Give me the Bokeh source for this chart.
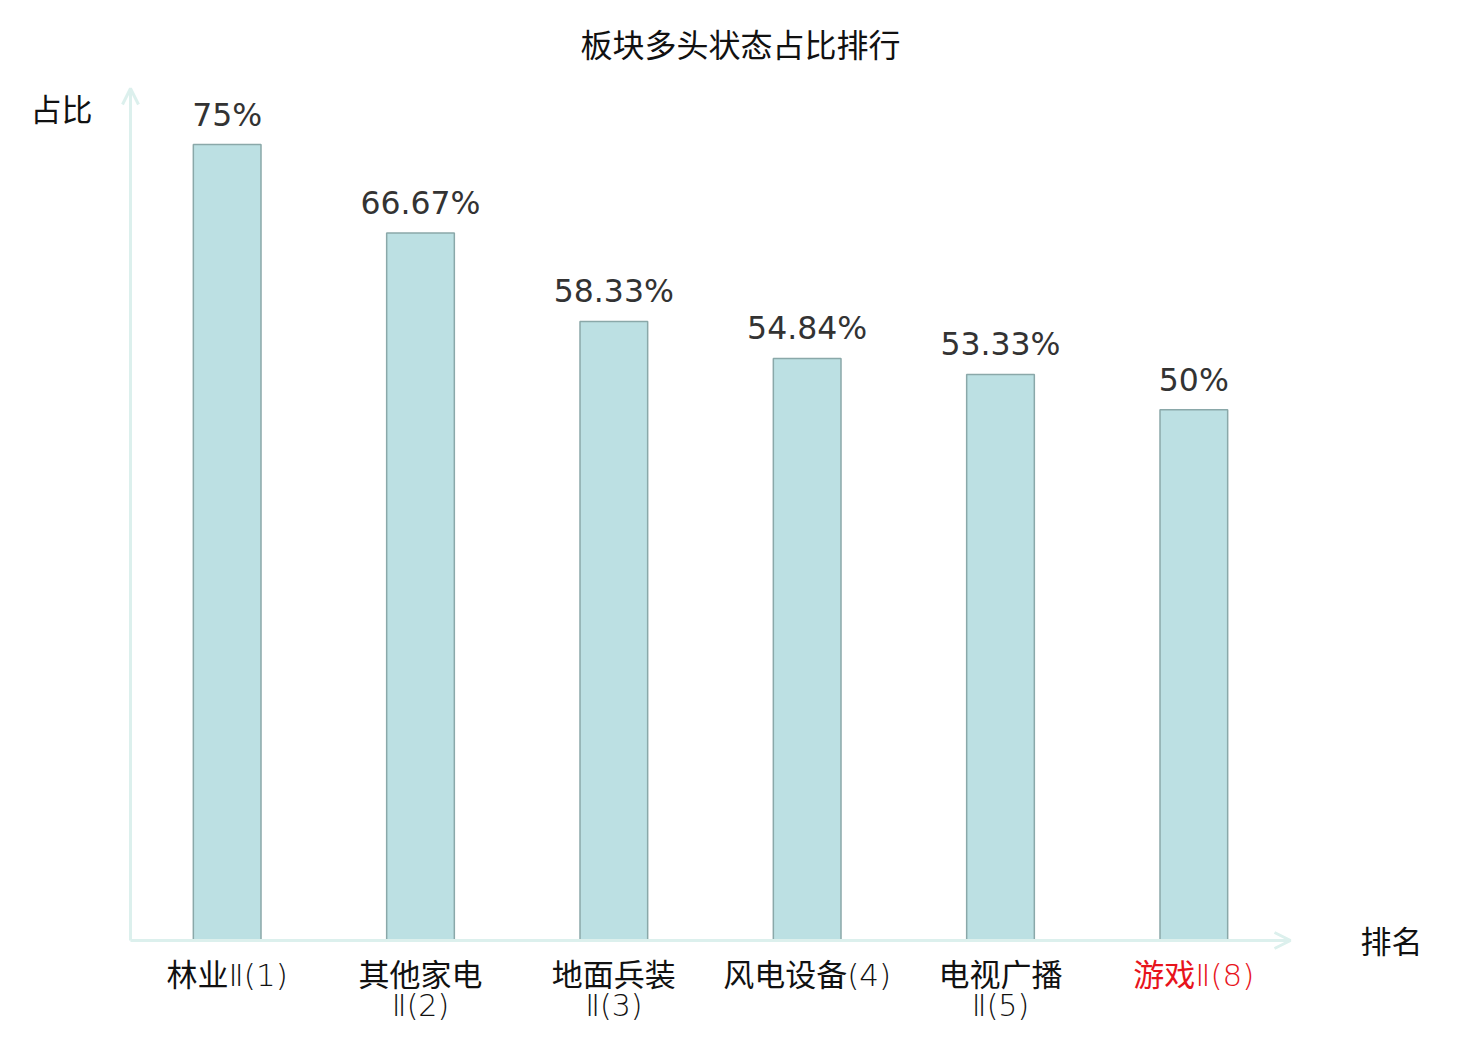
from bokeh.plotting import figure
from bokeh.models import ColumnDataSource, LabelSet, Label, Arrow, OpenHead, Range1d
from bokeh.core.properties import value
from bokeh.embed import file_html
from bokeh.resources import INLINE

# ---- data ----
categories = ["林业Ⅱ", "其他家电Ⅱ", "地面兵装Ⅱ", "风电设备", "电视广播Ⅱ", "游戏Ⅱ"]
label_line1 = ["林业Ⅱ(1)", "其他家电", "地面兵装", "风电设备(4)", "电视广播", "游戏Ⅱ(8)"]
label_line2 = ["", "Ⅱ(2)", "Ⅱ(3)", "", "Ⅱ(5)", ""]
label_colors = ["#111111", "#111111", "#111111", "#111111", "#111111", "#e8141c"]
values = [75, 66.67, 58.33, 54.84, 53.33, 50]
value_texts = ["75%", "66.67%", "58.33%", "54.84%", "53.33%", "50%"]
title_text = "板块多头状态占比排行"
y_name = "占比"
x_name = "排名"

CJK = "Noto Sans CJK SC"
MIX = "'DejaVu Sans ExtraLight', 'DejaVu Sans Light', 'Noto Sans CJK SC'"
axis_color = "#dcf0ed"

W, H = 1464, 1024
# frame covers whole canvas; axis origin at pixel (130, 940), x unit 193.33px, y unit 10.613px
xu, yu = 1160 / 6, 796 / 75
n = len(categories)
xs = [i + 0.5 for i in range(n)]

src = ColumnDataSource(dict(x=xs, cat=categories, val=values, vtxt=value_texts,
                            l1=label_line1, l2=label_line2, lc=label_colors))

p = figure(width=W, height=H, output_backend="svg", toolbar_location=None,
           x_range=Range1d(-130 / xu, (W - 130) / xu),
           y_range=Range1d(-(H - 940) / yu, 940 / yu),
           min_border=0)
p.axis.visible = False
p.grid.visible = False
p.outline_line_color = None
p.background_fill_color = "white"
p.border_fill_color = "white"

p.vbar(x="x", top="val", width=0.35, source=src,
       fill_color="#bce0e3", line_color="#8aa8a9", line_width=1.5)

y_top = 852 / yu
# axes with arrows
p.add_layout(Arrow(end=OpenHead(size=16, line_color=axis_color, line_width=3),
                   x_start=0, y_start=0, x_end=0, y_end=y_top,
                   line_color=axis_color, line_width=3))
p.add_layout(Arrow(end=OpenHead(size=16, line_color=axis_color, line_width=3),
                   x_start=0, y_start=0, x_end=n, y_end=0,
                   line_color=axis_color, line_width=3))

# title
p.add_layout(Label(x=(740 - 130) / xu, y=(940 - 42) / yu, text=title_text,
                   text_align="center", text_baseline="middle",
                   text_font=CJK, text_font_size="32px", text_color="#111111"))

# value labels
p.add_layout(LabelSet(x="x", y="val", text="vtxt", source=src,
                      text_align="center", text_baseline="middle", y_offset=30,
                      text_font=value("DejaVu Sans"), text_font_size=value("31.5px"),
                      text_color=value("#333333")))
# category labels
p.add_layout(LabelSet(x="x", y=0, text="l1", source=src,
                      text_align="center", text_baseline="middle", y_offset=-34,
                      text_font=value(MIX), text_font_size=value("31px"), text_color="lc"))
p.add_layout(LabelSet(x="x", y=0, text="l2", source=src,
                      text_align="center", text_baseline="middle", y_offset=-65,
                      text_font=value(MIX), text_font_size=value("30px"), text_color="lc"))

# axis names
p.add_layout(Label(x=0, y=y_top, text=y_name, x_offset=-69, y_offset=-19,
                   text_align="center", text_baseline="middle",
                   text_font=CJK, text_font_size="31px", text_color="#111111"))
p.add_layout(Label(x=n, y=0, text=x_name, x_offset=101, y_offset=1,
                   text_align="center", text_baseline="middle",
                   text_font=CJK, text_font_size="31px", text_color="#111111"))

open("out.html", "w").write(file_html(p, INLINE))
